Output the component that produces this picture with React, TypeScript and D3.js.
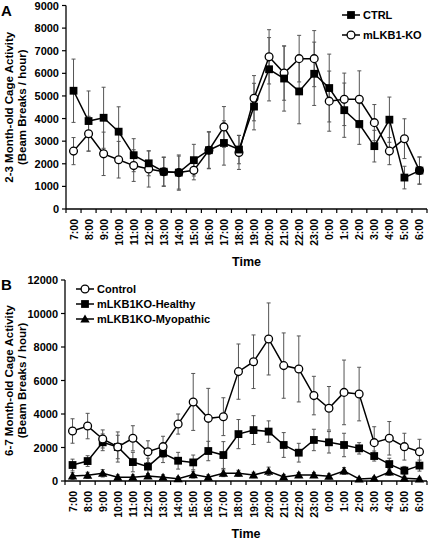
import React from "react";
import * as d3 from "d3";

const hours = ["7:00","8:00","9:00","10:00","11:00","12:00","13:00","14:00","15:00","16:00","17:00","18:00","19:00","20:00","21:00","22:00","23:00","0:00","1:00","2:00","3:00","4:00","5:00","6:00"];

// Panel A
const ctrlA = [5230,3890,4035,3420,2380,2020,1650,1610,2160,2600,2920,2630,4530,6180,5770,5200,5980,5350,4370,3760,2780,3950,1390,1700];
const ctrlAErr = [1400,1330,1350,1100,730,550,630,730,700,800,980,630,1030,1400,1440,1430,1400,1500,1200,900,700,1000,500,600];
const koA = [2560,3330,2440,2180,1920,1770,1650,1610,1710,2600,3630,2500,4900,6730,6010,6650,6650,4770,4850,4850,3820,2560,3110,1700];
const koAErr = [600,770,960,810,700,800,650,780,420,820,900,750,1000,1200,1200,1030,1240,1330,1160,1260,800,600,880,600];

// Panel B
const controlB = [2985,3280,2510,2030,2550,1750,2050,3400,4720,3740,3840,6530,7120,8480,6890,6690,5100,4340,5290,5190,2290,2550,2050,1750];
const controlBErr = [730,760,540,900,750,650,620,600,1700,1790,1130,1650,1600,2150,1950,1970,1150,1300,1930,1600,950,1000,800,740];
const healthyB = [955,1190,2310,2030,1130,860,1650,1210,1110,1790,1550,2800,3040,2950,2150,1690,2450,2310,2150,1950,1490,1010,620,920];
const healthyBErr = [350,320,500,700,580,500,550,500,440,580,800,870,860,640,740,560,640,640,700,340,300,350,250,330];
const myoB = [300,340,460,220,220,300,220,140,380,220,460,460,360,580,240,360,360,280,600,120,160,540,160,120];
const myoBErr = [200,180,220,150,150,150,150,120,200,150,200,180,160,250,150,150,150,150,200,100,100,200,100,100];

const yTicksA = [0,1000,2000,3000,4000,5000,6000,7000,8000,9000];
const yTicksB = [0,2000,4000,6000,8000,10000,12000];

const FONT = "Arial, 'Liberation Sans', Helvetica, sans-serif";
const ERR = "#555";

type Marker = "square" | "circle" | "triangle";

function MarkerShape({ type, x, y }: { type: Marker; x: number; y: number }) {
  if (type === "square") return <rect x={x - 3.9} y={y - 3.9} width={7.8} height={7.8} fill="#000" />;
  if (type === "circle") return <circle cx={x} cy={y} r={3.9} fill="#fff" stroke="#000" strokeWidth={1.3} />;
  const p = d3.symbol().type(d3.symbolTriangle).size(38)();
  return <path d={p as string} transform={`translate(${x},${y + 0.8})`} fill="#000" />;
}

interface Series { values: number[]; err: number[]; marker: Marker; }

function Panel({ top, bottom, left, right, yMax, yTicks, series, letter, yLabel1, yLabel2, timeY }: {
  top: number; bottom: number; left: number; right: number; yMax: number; yTicks: number[];
  series: Series[]; letter: string; yLabel1: string; yLabel2: string; timeY: number;
}) {
  const x = d3.scaleBand<string>().domain(hours).range([left, right]).padding(0);
  const y = d3.scaleLinear().domain([0, yMax]).range([bottom, top]);
  const cx = (h: string) => (x(h) as number) + x.bandwidth() / 2;
  const line = d3.line<number>().x((_, i) => cx(hours[i])).y((d) => y(d));
  const midY = (top + bottom) / 2;
  return (
    <g fontFamily={FONT} fontWeight="bold">
      <text x={1} y={top + 10} fontSize={15}>{letter}</text>
      <text transform={`translate(13,${midY}) rotate(-90)`} textAnchor="middle" fontSize={11.5}>{yLabel1}</text>
      <text transform={`translate(26,${midY}) rotate(-90)`} textAnchor="middle" fontSize={11.5}>{yLabel2}</text>
      {/* y axis */}
      <line x1={left} x2={left} y1={top} y2={bottom} stroke="#000" strokeWidth={1.3} />
      {yTicks.map((t) => (
        <g key={t}>
          <line x1={left - 4} x2={left} y1={y(t)} y2={y(t)} stroke="#000" strokeWidth={1.2} />
          <text x={left - 7} y={y(t) + 4} textAnchor="end" fontSize={11}>{t}</text>
        </g>
      ))}
      {/* x axis */}
      <line x1={left} x2={right} y1={bottom} y2={bottom} stroke="#000" strokeWidth={1.3} />
      {hours.map((h) => (
        <line key={"t" + h} x1={x(h) as number} x2={x(h) as number} y1={bottom} y2={bottom + 4} stroke="#000" strokeWidth={1.2} />
      ))}
      <line x1={right} x2={right} y1={bottom} y2={bottom + 4} stroke="#000" strokeWidth={1.2} />
      {hours.map((h) => (
        <text key={"l" + h} transform={`translate(${cx(h) + 4},${bottom + 10}) rotate(-90)`} textAnchor="end" fontSize={10.5}>{h}</text>
      ))}
      <text x={(left + right) / 2} y={timeY} textAnchor="middle" fontSize={12.5}>Time</text>
      {/* error bars */}
      {series.map((s, si) => (
        <g key={"e" + si} stroke={ERR} strokeWidth={1}>
          {s.values.map((v, i) => {
            const px = cx(hours[i]);
            const y1 = y(v + s.err[i]);
            const y0 = y(Math.max(0, v - s.err[i]));
            return (
              <g key={i}>
                <line x1={px} x2={px} y1={y1} y2={y0} />
                <line x1={px - 2} x2={px + 2} y1={y1} y2={y1} />
                <line x1={px - 2} x2={px + 2} y1={y0} y2={y0} />
              </g>
            );
          })}
        </g>
      ))}
      {/* lines & markers */}
      {series.map((s, si) => (
        <g key={"s" + si}>
          <path d={line(s.values) as string} fill="none" stroke="#000" strokeWidth={1.5} />
          {s.values.map((v, i) => <MarkerShape key={i} type={s.marker} x={cx(hours[i])} y={y(v)} />)}
        </g>
      ))}
    </g>
  );
}

function LegendItem({ x, y, marker, label }: { x: number; y: number; marker: Marker; label: string }) {
  return (
    <g fontFamily={FONT} fontWeight="bold">
      <line x1={x} x2={x + 18} y1={y} y2={y} stroke="#000" strokeWidth={1.5} />
      <MarkerShape type={marker} x={x + 9} y={y} />
      <text x={x + 21} y={y + 4} fontSize={11}>{label}</text>
    </g>
  );
}

export default function App() {
  return (
    <svg width={432} height={540} style={{ position: "absolute", left: 0, top: 0, background: "#fff" }}>
      <Panel top={5.5} bottom={209} left={66} right={427} yMax={9000} yTicks={yTicksA}
        series={[{ values: koA, err: koAErr, marker: "circle" }, { values: ctrlA, err: ctrlAErr, marker: "square" }]}
        letter="A" yLabel1="2-3 Month-old Cage Activity" yLabel2="(Beam Breaks / hour)" timeY={266} />
      <LegendItem x={342} y={15} marker="square" label="CTRL" />
      <LegendItem x={342} y={35} marker="circle" label="mLKB1-KO" />
      <Panel top={280} bottom={481} left={65} right={427} yMax={12000} yTicks={yTicksB}
        series={[{ values: myoB, err: myoBErr, marker: "triangle" }, { values: healthyB, err: healthyBErr, marker: "square" }, { values: controlB, err: controlBErr, marker: "circle" }]}
        letter="B" yLabel1="6-7 Month-old Cage Activity" yLabel2="(Beam Breaks / hour)" timeY={538} />
      <LegendItem x={76} y={289} marker="circle" label="Control" />
      <LegendItem x={76} y={304} marker="square" label="mLKB1KO-Healthy" />
      <LegendItem x={76} y={319} marker="triangle" label="mLKB1KO-Myopathic" />
    </svg>
  );
}
